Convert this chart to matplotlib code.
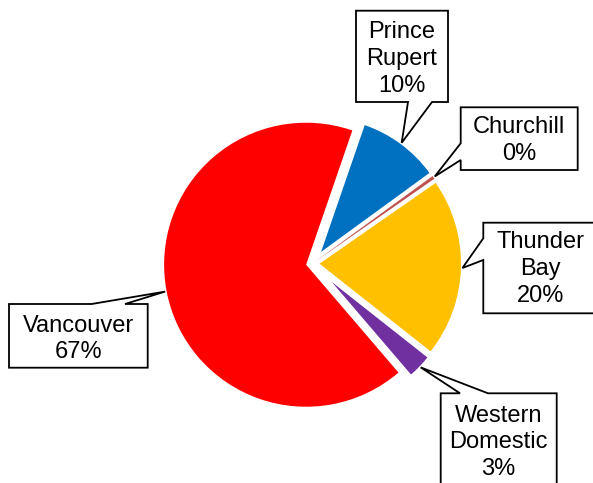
import numpy as np
import matplotlib.pyplot as plt
from matplotlib.patches import Polygon

# data
ports = ['Prince Rupert', 'Churchill', 'Thunder Bay', 'Western Domestic', 'Vancouver']
name_lines = [['Prince', 'Rupert'], ['Churchill'], ['Thunder', 'Bay'],
              ['Western', 'Domestic'], ['Vancouver']]
shares = [9.7, 0.35, 20.3, 3.1, 66.55]

colors = ['#0070C0', '#C0504D', '#FFC000', '#7030A0', '#FF0000']
shift = [14.4, 2.5, 7.0, 26.7, 6.5]   # how far each slice is pulled out (px)

W, H = 593, 483
R = 148.5
cx, cy = 312.5, H - 263.5

# callout boxes in pixel coords (y from top): x0, x1, ytop, ybot, side, base a, base b, first baseline
boxes = [
    (356, 448, 10.7, 102, 'bottom', 408, 432, 38.3),
    (460.7, 577.7, 107.3, 170, 'left', 143.3, 160, 133.3),
    (483.3, 598, 222.7, 313.3, 'left', 238.3, 260, 248.3),
    (440.7, 556.7, 393.3, 485, 'top', 460, 488, 421.7),
    (9, 147.7, 304, 367.7, 'top', 91.7, 125, 331.7),
]
line_step = 26.8

fig = plt.figure(figsize=(W / 100, H / 100), dpi=100)
ax = fig.add_axes([0, 0, 1, 1])
wedges, _ = ax.pie(shares, colors=colors, startangle=71, counterclock=False,
                   radius=R, center=(cx, cy), explode=shift,
                   wedgeprops=dict(linewidth=0))
for w, s in zip(wedges, shift):
    w.set_radius(R - s)

ax.set_xlim(0, W)
ax.set_ylim(0, H)
ax.set_aspect('equal')
ax.axis('off')


def Y(y):
    return H - y


for w, lines, val, bx in zip(wedges, name_lines, shares, boxes):
    x0, x1, yt, yb, side, a, b, base = bx
    mid = np.radians((w.theta1 + w.theta2) / 2)
    tx = w.center[0] + (w.r + 1.5) * np.cos(mid)
    ty = w.center[1] + (w.r + 1.5) * np.sin(mid)
    if side == 'bottom':
        pts = [(x0, Y(yt)), (x1, Y(yt)), (x1, Y(yb)), (b, Y(yb)), (tx, ty),
               (a, Y(yb)), (x0, Y(yb))]
    elif side == 'left':
        pts = [(x0, Y(yt)), (x1, Y(yt)), (x1, Y(yb)), (x0, Y(yb)), (x0, Y(b)),
               (tx, ty), (x0, Y(a))]
    else:
        pts = [(x0, Y(yt)), (a, Y(yt)), (tx, ty), (b, Y(yt)), (x1, Y(yt)),
               (x1, Y(yb)), (x0, Y(yb))]
    ax.add_patch(Polygon(pts, closed=True, facecolor='white', edgecolor='black',
                         linewidth=1.3, zorder=5))
    txt = lines + [f'{round(val):.0f}%']
    xc = (x0 + x1) / 2
    for i, t in enumerate(txt):
        ax.text(xc, Y(base + i * line_step), t, ha='center', va='baseline',
                fontsize=17, family='Liberation Sans', color='black', zorder=6)

fig.savefig('out.png', dpi=100)
